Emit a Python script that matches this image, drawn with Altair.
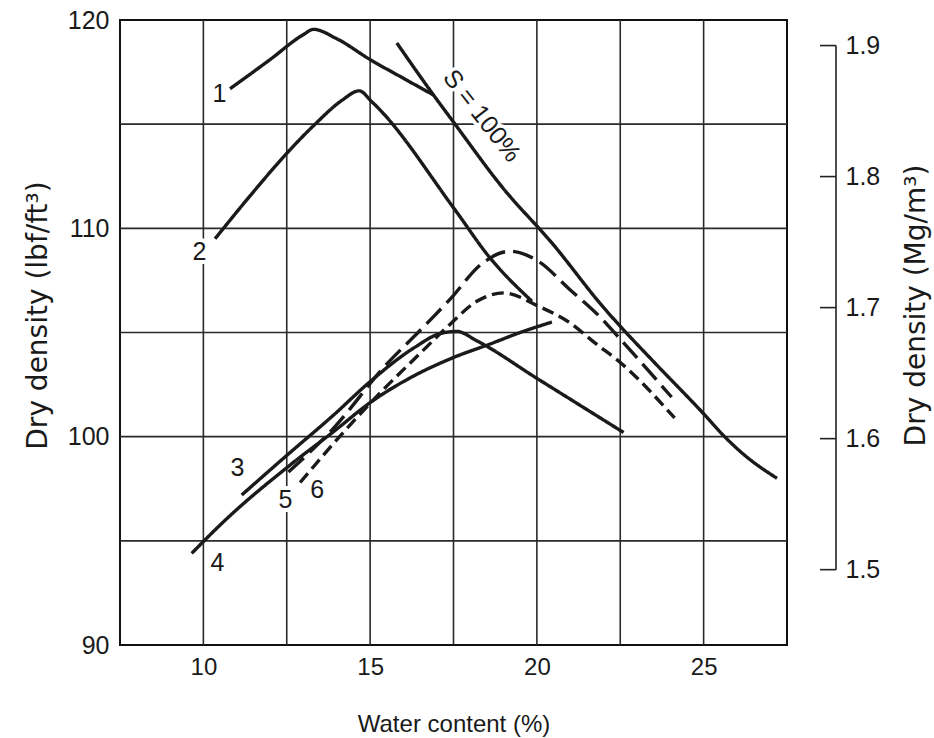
import altair as alt
import pandas as pd

# ---- axis / grid values ----
x_grid = [10, 12.5, 15, 17.5, 20, 22.5, 25]
y_grid = [95, 100, 105, 110, 115]
x_labels = [10, 15, 20, 25]
y_labels = [90, 100, 110, 120]
right_ticks = [1.5, 1.6, 1.7, 1.8, 1.9]

# ---- curves (water content %, dry density lbf/ft3) ----
c1_w = [10.8, 12.0, 13.0, 13.3, 14.0, 15.0, 16.0, 16.9]
c1_d = [116.7, 118.1, 119.3, 119.55, 119.1, 118.1, 117.2, 116.4]

c2_w = [10.35, 11.5, 12.5, 13.35, 14.16, 14.67, 15.06, 17.54, 18.56, 19.85]
c2_d = [109.5, 111.75, 113.6, 115.0, 116.15, 116.6, 116.06, 110.9, 108.65, 106.5]

c3_w = [11.15, 12.5, 13.92, 14.97, 16.35, 17.1, 17.6, 18.2, 20.0, 22.6]
c3_d = [97.2, 99.1, 101.06, 102.6, 104.3, 104.95, 105.05, 104.6, 102.8, 100.2]

c4_w = [9.65, 10.66, 12.57, 13.95, 14.97, 16.35, 17.5, 18.6, 19.5, 20.45]
c4_d = [94.4, 96.0, 98.6, 100.3, 101.6, 102.95, 103.8, 104.45, 105.0, 105.5]

c5_w = [12.55, 13.9, 15.45, 16.56, 17.4, 18.35, 19.2, 20.06, 20.96, 21.86, 22.49, 24.04]
c5_d = [98.3, 100.4, 103.4, 105.2, 106.6, 108.3, 108.9, 108.4, 107.1, 105.8, 104.7, 101.9]

c6_w = [12.9, 14.25, 15.36, 16.5, 17.4, 18.2, 19.0, 20.06, 20.96, 21.74, 22.51, 24.13]
c6_d = [97.8, 100.3, 102.2, 104.0, 105.4, 106.5, 106.9, 106.25, 105.5, 104.5, 103.55, 100.9]

s_w = [15.8, 16.9, 17.5, 19.0, 20.45, 22.0, 22.5, 23.5, 25.0, 25.63, 26.2, 27.2]
s_d = [118.9, 116.4, 115.1, 111.9, 109.3, 106.2, 105.3, 103.6, 101.1, 100.0, 99.15, 98.0]

curve_names = ["1", "2", "3", "4", "5", "6", "S"]
curve_styles = ["solid", "solid", "solid", "solid", "long", "short", "solid"]
curve_w = [c1_w, c2_w, c3_w, c4_w, c5_w, c6_w, s_w]
curve_d = [c1_d, c2_d, c3_d, c4_d, c5_d, c6_d, s_d]

# ---- curve labels ----
lab_text = ["1", "2", "3", "4", "5", "6"]
lab_w = [10.48, 9.88, 11.02, 10.42, 12.46, 13.41]
lab_d = [116.44, 108.85, 98.5, 93.94, 96.97, 97.45]
s_label = ["S = 100%"]
s_label_w = [18.35]
s_label_d = [115.4]

rows = []
for name, style, ws, ds in zip(curve_names, curve_styles, curve_w, curve_d):
    for w, d in zip(ws, ds):
        rows.append({"curve": name, "style": style, "w": w, "d": d})
curves = pd.DataFrame(rows)
labels = pd.DataFrame({"w": lab_w, "d": lab_d, "t": lab_text})
slab = pd.DataFrame({"w": s_label_w, "d": s_label_d, "t": s_label})

W, H = 667, 625
FONT = "Liberation Sans"
TFONT = "DejaVu Sans"
INK = "#1a1a1a"

xs = alt.Scale(domain=[7.5, 27.5], nice=False, zero=False)
ys = alt.Scale(domain=[90, 120], nice=False, zero=False)

x_axis = alt.Axis(values=x_labels, grid=False, ticks=False, domain=False,
                  labelPadding=10, labelFontSize=24, labelFlush=False,
                  labelOverlap=False, title="Water content (%)",
                  titleFontSize=24, titleY=86, titleBaseline="alphabetic")
y_axis = alt.Axis(values=y_labels, grid=False, ticks=False, domain=False,
                  labelPadding=11, labelFontSize=25, labelOverlap=False,
                  labelFlush=False,
                  title="Dry density (lbf/ft³)", titleFontSize=28,
                  titleFont=TFONT,
                  titleAngle=270, titleX=-82, titleY=295,
                  titleAlign="center", titleBaseline="middle")

x_enc = alt.X("w:Q", scale=xs, axis=x_axis)
y_enc = alt.Y("d:Q", scale=ys, axis=y_axis)

vgrid = alt.Chart(pd.DataFrame({"w": x_grid})).mark_rule(
    color="#2a2a2a", strokeWidth=1.6).encode(x=x_enc)
hgrid = alt.Chart(pd.DataFrame({"d": y_grid})).mark_rule(
    color="#2a2a2a", strokeWidth=1.6).encode(y=y_enc)

lines = alt.Chart(curves).mark_line(
    interpolate="monotone", strokeWidth=3.4, color=INK, strokeCap="butt"
).encode(
    x=x_enc, y=y_enc, detail="curve:N",
    strokeDash=alt.StrokeDash("style:N", legend=None,
                              scale=alt.Scale(domain=["solid", "long", "short"],
                                              range=[[1, 0], [21, 8], [12, 6]])),
)

halo = alt.Chart(labels).mark_text(
    font=FONT, fontSize=25, stroke="white", strokeWidth=8, color="white"
).encode(x=x_enc, y=y_enc, text="t:N")
text = alt.Chart(labels).mark_text(
    font=FONT, fontSize=25, color=INK
).encode(x=x_enc, y=y_enc, text="t:N")

s_halo = alt.Chart(slab).mark_text(
    font=FONT, fontSize=25, angle=52, stroke="white", strokeWidth=7, color="white"
).encode(x=x_enc, y=y_enc, text="t:N")
s_text = alt.Chart(slab).mark_text(
    font=FONT, fontSize=25, angle=52, color=INK
).encode(x=x_enc, y=y_enc, text="t:N")

inner = alt.layer(vgrid, hgrid, halo, s_halo, lines, text, s_text)

# ---- right axis (Mg/m3) ----
mg_scale = alt.Scale(domain=[1.4425, 1.9195], nice=False, zero=False)
r_axis = alt.Axis(orient="right", values=right_ticks, offset=49, ticks=False,
                  domain=False, grid=False, labelPadding=9, labelFontSize=25,
                  labelOverlap=False, labelFlush=False, format=".1f",
                  title="Dry density (Mg/m³)", titleFontSize=28,
                  titleFont=TFONT,
                  titleAngle=270, titleX=80, titleY=285,
                  titleAlign="center", titleBaseline="middle")

r_ticks = alt.Chart(pd.DataFrame({"mg": right_ticks})).mark_rule(
    color="#222", strokeWidth=1.6).encode(
    y=alt.Y("mg:Q", scale=mg_scale, axis=r_axis),
    x=alt.value(W + 33), x2=alt.value(W + 49))
r_line = alt.Chart(pd.DataFrame({"mg": [min(right_ticks)],
                                 "hi": [max(right_ticks)]})).mark_rule(
    color="#222", strokeWidth=1.6).encode(
    y=alt.Y("mg:Q", scale=mg_scale, axis=r_axis), y2="hi:Q",
    x=alt.value(W + 49))
right = alt.layer(r_ticks, r_line)

chart = alt.layer(inner, right).resolve_scale(y="independent").properties(
    width=W, height=H,
    autosize=alt.AutoSizeParams(type="none"),
    padding={"left": 120, "top": 20, "right": 147, "bottom": 93},
    background="white",
).configure_view(stroke="#111", strokeWidth=2).configure_axis(
    labelFont=FONT, titleFont=FONT, labelColor=INK, titleColor=INK,
    titleFontWeight="normal"
)

chart.save("out.html", embed_options={"renderer": "svg", "actions": False})
